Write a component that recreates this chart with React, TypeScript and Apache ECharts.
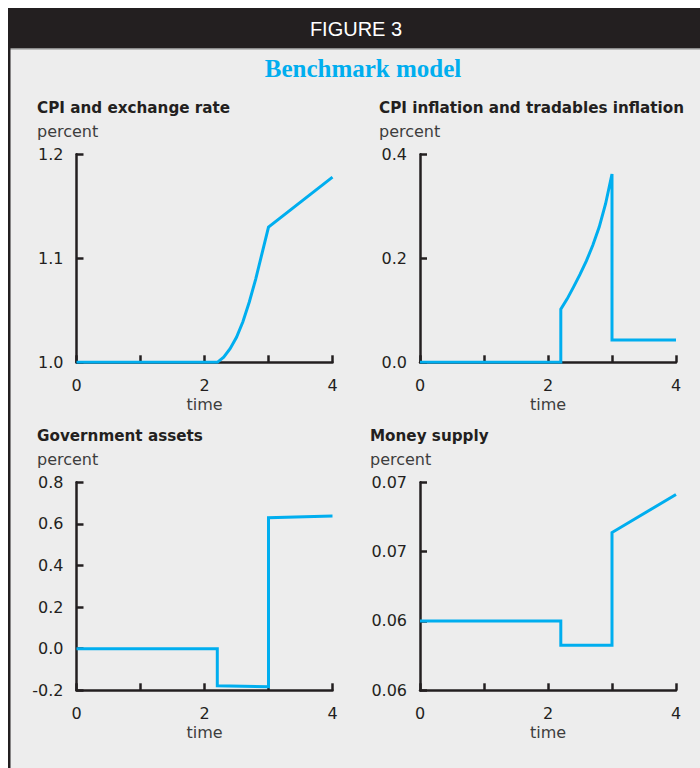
import React, { useEffect, useRef } from "react";
import * as echarts from "echarts";

// ---- data ----
const X_TICK_LABELS = ["0", "", "2", "", "4"];

const CPI_T = [0, 2.2, 2.3, 2.4, 2.5, 2.6, 2.7, 2.8, 2.9, 3.0, 4.0];
const CPI_V = [1.0, 1.0, 1.005, 1.013, 1.024, 1.039, 1.058, 1.08, 1.105, 1.13, 1.178];

const INF_T = [0, 2.2, 2.2, 2.3, 2.4, 2.5, 2.6, 2.7, 2.8, 2.9, 3.0, 3.0, 4.0];
const INF_V = [0, 0, 0.102, 0.122, 0.145, 0.169, 0.195, 0.225, 0.26, 0.305, 0.362, 0.043, 0.043];

const GOV_T = [0, 2.2, 2.2, 3.0, 3.0, 4.0];
const GOV_V = [0, 0, -0.178, -0.183, 0.63, 0.638];

const MON_T = [0, 2.2, 2.2, 3.0, 3.0, 4.0];
const MON_V = [0.06, 0.06, 0.0586, 0.0586, 0.0651, 0.0673];

const CPI_TICKS = ["1.0", "1.1", "1.2"];
const INF_TICKS = ["0.0", "0.2", "0.4"];
const GOV_TICKS = ["-0.2", "0.0", "0.2", "0.4", "0.6", "0.8"];
const MON_TICKS = ["0.06", "0.06", "0.07", "0.07"];

const PANEL_TITLES = [
  "CPI and exchange rate",
  "CPI inflation and tradables inflation",
  "Government assets",
  "Money supply",
];
const UNIT = "percent";
const X_NAME = "time";
const FIG_LABEL = "FIGURE 3";
const MAIN_TITLE = "Benchmark model";

// ---- styles ----
const BLUE = "#00aeef";
const DARK = "#231f20";
const GREY_TEXT = "#3d3d3d";
const BG = "#ededed";
const SANS = '"DejaVu Sans", "Liberation Sans", sans-serif';

const zip = (t: number[], v: number[]) => t.map((x, i) => [x, v[i]]);

export default function App() {
  const ref = useRef<HTMLDivElement>(null);

  useEffect(() => {
    if (!ref.current) return;
    const chart = echarts.init(ref.current, undefined, { renderer: "svg" });

    const grids = [
      { left: 76.5, top: 154.3, width: 256, height: 208 },
      { left: 420, top: 154.3, width: 256, height: 208 },
      { left: 76.5, top: 482.3, width: 256, height: 208 },
      { left: 420, top: 482.3, width: 256, height: 208 },
    ];

    const yDefs = [
      { min: 1.0, max: 1.2, interval: 0.1, labels: CPI_TICKS },
      { min: 0, max: 0.4, interval: 0.2, labels: INF_TICKS },
      { min: -0.2, max: 0.8, interval: 0.2, labels: GOV_TICKS },
      { min: 0.056, max: 0.068, interval: 0.004, labels: MON_TICKS },
    ];

    const datasets = [zip(CPI_T, CPI_V), zip(INF_T, INF_V), zip(GOV_T, GOV_V), zip(MON_T, MON_V)];

    const axisLine = { show: true, onZero: false, lineStyle: { color: DARK, width: 2.5 } };
    const axisTick = { show: true, inside: true, length: 7, lineStyle: { color: DARK, width: 2.5 } };

    const xAxis = grids.map((_, i) => ({
      type: "value",
      gridIndex: i,
      min: 0,
      max: 4,
      interval: 1,
      axisLine,
      axisTick,
      splitLine: { show: false },
      axisLabel: {
        margin: 15,
        color: DARK,
        fontFamily: SANS,
        fontSize: 16,
        formatter: (v: number) => X_TICK_LABELS[Math.round(v)] ?? "",
      },
      name: X_NAME,
      nameLocation: "middle",
      nameGap: 34,
      nameTextStyle: { color: GREY_TEXT, fontFamily: SANS, fontSize: 16 },
    }));

    const yAxis = yDefs.map((d, i) => ({
      type: "value",
      gridIndex: i,
      min: d.min,
      max: d.max,
      interval: d.interval,
      axisLine,
      axisTick,
      splitLine: { show: false },
      axisLabel: {
        margin: 13,
        color: DARK,
        fontFamily: SANS,
        fontSize: 16,
        formatter: (v: number) => d.labels[Math.round((v - d.min) / d.interval)] ?? "",
      },
    }));

    const series = datasets.map((data, i) => ({
      type: "line",
      xAxisIndex: i,
      yAxisIndex: i,
      data,
      showSymbol: false,
      symbol: "none",
      lineStyle: { color: BLUE, width: 3, join: "miter" },
      z: 5,
    }));

    const text = (
      str: string,
      x: number,
      y: number,
      font: string,
      fill: string,
      align: string = "left"
    ) => ({
      type: "text",
      x,
      y,
      z: 10,
      style: {
        text: str,
        font,
        fill,
        align,
        verticalAlign: "middle",
        textAlign: align,
        textVerticalAlign: "middle",
      },
    });

    const titlePos = [
      [37, 108],
      [379, 108],
      [37, 436],
      [370, 436],
    ];

    const graphic: any[] = [
      { type: "rect", z: 1, shape: { x: 0, y: 0, width: 700, height: 8 }, style: { fill: "#ffffff" } },
      { type: "rect", z: 1, shape: { x: 0, y: 0, width: 8, height: 768 }, style: { fill: "#ffffff" } },
      { type: "rect", z: 1, shape: { x: 8, y: 8, width: 692, height: 40 }, style: { fill: DARK } },
      { type: "rect", z: 1, shape: { x: 8, y: 48, width: 692, height: 1.5 }, style: { fill: "#8c8c8c" } },
      { type: "rect", z: 1, shape: { x: 8, y: 48, width: 2.5, height: 720 }, style: { fill: DARK } },
      text(FIG_LABEL, 356, 29, '20px "Liberation Sans", sans-serif', "#ffffff", "center"),
      text(MAIN_TITLE, 363, 68, 'bold 25px "Liberation Serif", serif', BLUE, "center"),
    ];
    PANEL_TITLES.forEach((t, i) => {
      const [x, y] = titlePos[i];
      graphic.push(text(t, x, y, `bold 15.2px ${SANS}`, DARK));
      graphic.push(text(UNIT, x, y + 23, `16px ${SANS}`, GREY_TEXT));
    });

    chart.setOption({
      animation: false,
      backgroundColor: BG,
      grid: grids.map((g) => ({ ...g, containLabel: false })),
      xAxis,
      yAxis,
      series,
      graphic,
    });

    return () => chart.dispose();
  }, []);

  return (
    <div
      ref={ref}
      style={{ position: "fixed", left: 0, top: 0, width: 700, height: 768 }}
    />
  );
}
